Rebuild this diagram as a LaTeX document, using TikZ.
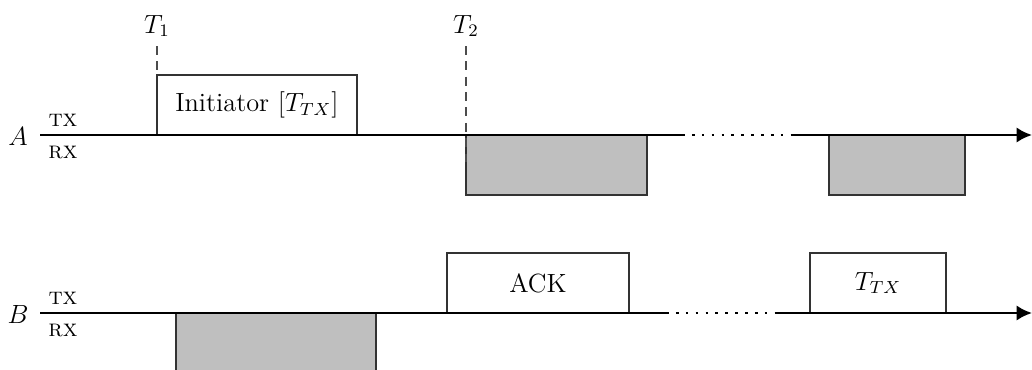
\documentclass[12pt,tikz,border=0pt]{standalone}
\usetikzlibrary{arrows.meta}
\begin{document}
\begin{tikzpicture}[x=0.016cm,y=-0.016cm,
  axis/.style={line width=1.2pt},
  axisarrow/.style={line width=1.2pt,-{Latex[length=7pt,width=7pt]}},
  gapline/.style={line width=1.2pt,dash pattern=on 1.2pt off 3.3pt},
  txbox/.style={draw=black!80,line width=0.6pt,fill=white,inner sep=0pt,outer sep=0pt,minimum height=0.96cm},
  rxbox/.style={draw=black!80,line width=0.6pt,fill=gray!50,inner sep=0pt,outer sep=0pt,minimum height=0.96cm},
  marker/.style={draw=black!70,dash pattern=on 4pt off 3pt,line width=0.6pt},
  chan/.style={inner sep=0pt,font=\small}]
\clip (0,0) rectangle (1032,369);
\useasboundingbox (0,0) rectangle (1032,369);
% axis A
\coordinate (A0) at (40,135);
\coordinate (A1) at (682,135);
\coordinate (A2) at (793,135);
\coordinate (A3) at (1032,135);
\node (lA) at (18,136) {$A$};
\node[chan] (txA) at (63,120) {\textsc{tx}};
\node[chan] (rxA) at (63,152) {\textsc{rx}};
% axis B
\coordinate (B0) at (40,313);
\coordinate (B1) at (666,313);
\coordinate (B2) at (775,313);
\coordinate (B3) at (1032,313);
\node (lB) at (18,314) {$B$};
\node[chan] (txB) at (63,298) {\textsc{tx}};
\node[chan] (rxB) at (63,330) {\textsc{rx}};
% boxes A
\node[txbox,minimum width=3.2cm,anchor=south west] (init) at (157,135) {Initiator [$T_{TX}$]};
\node[rxbox,minimum width=2.896cm,anchor=north west] (rA1) at (466,135) {};
\node[rxbox,minimum width=2.176cm,anchor=north west] (rA2) at (829,135) {};
% boxes B
\node[rxbox,minimum width=3.2cm,anchor=north west] (rB1) at (176,313) {};
\node[txbox,minimum width=2.912cm,anchor=south west] (ack) at (447,313) {ACK};
\node[txbox,minimum width=2.176cm,anchor=south west] (ttx) at (810,313) {$T_{TX}$};
% axes lines
\draw[axis] (A0) -- (A1);
\draw[gapline] (A1) -- (A2);
\draw[axisarrow] (A2) -- (A3);
\draw[axis] (B0) -- (B1);
\draw[gapline] (B1) -- (B2);
\draw[axisarrow] (B2) -- (B3);
% time markers
\node (T1) at (157,26) {$T_1$};
\node (T2) at (466,26) {$T_2$};
\coordinate (m1top) at (157,46);
\coordinate (m2top) at (466,46);
\coordinate (m2bot) at (466,165);
\draw[marker] (m1top) -- (init.north west);
\draw[marker] (m2top) -- (m2bot);
\end{tikzpicture}
\end{document}
